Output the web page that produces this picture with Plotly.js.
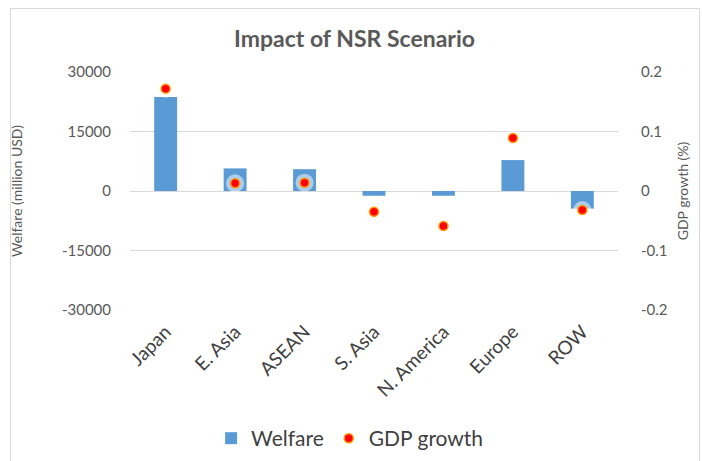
<!DOCTYPE html>
<html><head><meta charset="utf-8">
<script src="https://cdn.plot.ly/plotly-3.0.1.min.js"></script>
<style>html,body{margin:0;padding:0;background:#fff;}#wrap{position:relative;width:702px;height:461px;}
#frame{position:absolute;left:10px;top:8px;width:690px;height:460px;border:1px solid #d9d9d9;pointer-events:none;box-sizing:border-box;}</style>
</head><body><div id="wrap"><div id="chart" style="width:702px;height:461px;"></div><div id="frame"></div></div>
<script>
const categories = ["Japan","E. Asia","ASEAN","S. Asia","N. America","Europe","ROW"];
const welfare = [23700, 5700, 5500, -1200, -1200, 7800, -4450];
const gdpGrowth = [0.172, 0.013, 0.014, -0.035, -0.059, 0.089, -0.032];
const leftTicks = [-30000,-15000,0,15000,30000];
const rightTicks = [-0.2,-0.1,0,0.1,0.2];

const font = "Lato, 'Open Sans', sans-serif";
const data = [
  {type:'bar', name:'Welfare', x:categories, y:welfare, marker:{color:'#5b9bd5'}, width:0.33, yaxis:'y'},
  {type:'scatter', mode:'markers', name:'halo', showlegend:false, hoverinfo:'skip', x:categories, y:gdpGrowth, yaxis:'y2',
   marker:{size:18, color:'rgba(255,255,255,0.5)', line:{width:0}}},
  {type:'scatter', mode:'markers', name:'GDP growth', x:categories, y:gdpGrowth, yaxis:'y2',
   marker:{size:9, color:'#ff0000', line:{color:'#ff9900', width:1.5}}}
];
const layout = {
  width:702, height:461,
  margin:{l:130, r:84, t:72, b:151, autoexpand:false},
  paper_bgcolor:'#fff', plot_bgcolor:'#fff',
  font:{family:font, color:'#595959'},
  title:{text:'<b>Impact of NSR Scenario</b>', font:{size:23, color:'#595959', family:font}, x:0.505, xref:'container', xanchor:'center', y:0.915, yanchor:'middle'},
  showlegend:true,
  legend:{orientation:'h', x:0.45, xanchor:'center', y:-0.54, yanchor:'middle', font:{size:21, color:'#404040'}, itemwidth:30},
  xaxis:{type:'category', tickangle:-45, tickfont:{size:19, color:'#404040'}, showgrid:false, showline:false, ticks:'', automargin:false, ticklabelstandoff:6},
  yaxis:{range:[-30000,30000], tickvals:leftTicks, ticktext:leftTicks.map(String), showgrid:true, gridcolor:'#d9d9d9', gridwidth:1,
         zeroline:true, zerolinecolor:'#d9d9d9', zerolinewidth:1, tickfont:{size:15, color:'#595959'}, ticklabelstandoff:18, automargin:false,
         title:{text:'Welfare (million USD)', font:{size:14, color:'#595959'}, standoff:36}},
  yaxis2:{range:[-0.2,0.2], tickvals:rightTicks, ticktext:['-0.2','-0.1','0','0.1','0.2'], overlaying:'y', side:'right', showgrid:false, zeroline:false,
          tickfont:{size:15, color:'#595959'}, ticklabelstandoff:22, automargin:false,
          title:{text:'GDP growth (%)', font:{size:14, color:'#595959'}, standoff:11}}
};
Plotly.newPlot('chart', data, layout, {displayModeBar:false, staticPlot:true});
</script></body></html>
